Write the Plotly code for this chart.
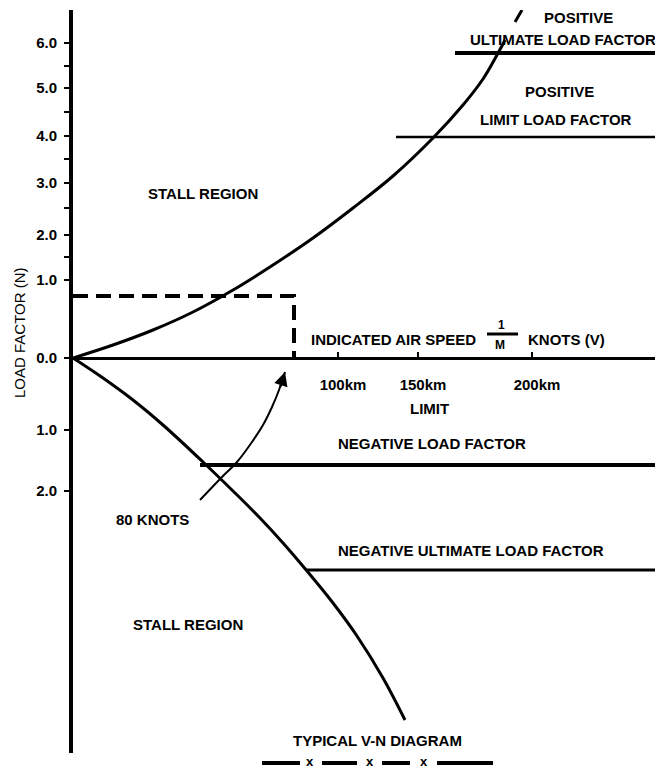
import plotly.graph_objects as go

# ---------------- data (diagram units: v = airspeed to the right of origin, n = load factor above the zero line)
pos_stall_v = [0, 40, 80, 120, 160, 200, 240, 280, 320, 360, 390, 410, 424, 432]
pos_stall_n = [0, 13, 28, 46, 68, 93, 120, 150, 182, 220, 253, 279, 303, 318]
pos_stall_tip_v = [442, 449]
pos_stall_tip_n = [336, 348]

neg_stall_v = [0, 30, 60, 90, 130, 160, 187, 210, 234, 260, 284, 310, 332]
neg_stall_n = [0, -20, -42, -67, -104, -133, -160, -185, -213, -245, -278, -320, -362]

# limit lines: start speed, load level
pos_ult_v, pos_ult_n = [382, 600], [305, 305]
pos_lim_v, pos_lim_n = [323, 600], [221, 221]
neg_lim_v, neg_lim_n = [127, 600], [-107, -107]
neg_ult_v, neg_ult_n = [234, 600], [-212, -212]

# 80 knot box
box_v = [0, 221, 221]
box_n = [62, 62, 0]

# 80 knots pointer
arrow_v = [127, 149, 164, 179, 190, 199, 206, 212]
arrow_n = [-142, -119, -104, -84, -67, -49, -32, -14]

speed_tick_vals = [265, 345, 459]
speed_tick_text = ["100km", "150km", "200km"]
load_tick_vals = [315, 270, 222, 175, 123, 78, 0, -72, -133]
load_tick_text = ["6.0", "5.0", "4.0", "3.0", "2.0", "1.0", "0.0", "1.0", "2.0"]
load_minor_vals = [292, 246, 199, 150, 101]

# ---------------- figure geometry (pixels; the page body adds an 8px margin)
W, H = 663, 769
OFF = 8
AX_X, AX_ZERO, AX_TOP, AX_BOT = 73 - OFF, 358 - OFF, 10 - OFF, 753 - OFF
FONT = "Liberation Sans, Arial, sans-serif"

def px(x):
    return (x - OFF) / W

def py(y):
    return (H - (y - OFF)) / H

fig = go.Figure()

def line(xs, ys, width=3, dash=None, smooth=True):
    fig.add_trace(go.Scatter(x=xs, y=ys, mode="lines", hoverinfo="skip", showlegend=False,
                             line=dict(color="black", width=width, dash=dash,
                                       shape="spline" if smooth else "linear",
                                       smoothing=1.0 if smooth else None)))

line(pos_stall_v, pos_stall_n, 3)
line(pos_stall_tip_v, pos_stall_tip_n, 3, smooth=False)
line(neg_stall_v, neg_stall_n, 3)
line(pos_ult_v, pos_ult_n, 4, smooth=False)
line(pos_lim_v, pos_lim_n, 2.5, smooth=False)
line(neg_lim_v, neg_lim_n, 4, smooth=False)
line(neg_ult_v, neg_ult_n, 3, smooth=False)
fig.add_trace(go.Scatter(x=box_v, y=box_n, mode="lines", hoverinfo="skip", showlegend=False,
                         line=dict(color="black", width=4, dash="15px,8px")))
line(arrow_v, arrow_n, 2)

anns = []
def txt(t, x, y, size=15, bold=True, xref="x", yref="y", angle=0):
    anns.append(dict(text=("<b>%s</b>" % t) if bold else t, x=x, y=y, xref=xref, yref=yref,
                     showarrow=False, textangle=angle, xanchor="center", yanchor="middle",
                     font=dict(family=FONT, size=size, color="#000000")))

txt("POSITIVE", 505, 340)
txt("ULTIMATE LOAD FACTOR", 490, 318)
txt("POSITIVE", 486, 266)
txt("LIMIT LOAD FACTOR", 483, 238)
txt("STALL REGION", 130, 164)
txt("INDICATED AIR SPEED", 320, 18)
txt("1", 428, 33, size=12)
txt("M", 427, 13, size=12)
txt("KNOTS (V)", 493, 18)
txt("LIMIT", 356, -51)
txt("NEGATIVE LOAD FACTOR", 359, -86)
txt("80 KNOTS", 79, -162)
txt("NEGATIVE ULTIMATE LOAD FACTOR", 398, -192)
txt("STALL REGION", 115, -266)
txt("TYPICAL V-N DIAGRAM", 304, -382)
txt("LOAD FACTOR (N)", px(20), 25, bold=False, xref="paper", angle=-90)

# arrow head of the 80 knots pointer
anns.append(dict(x=212, y=-14, xref="x", yref="y", ax=-5, ay=16, text="", showarrow=True,
                 arrowhead=2, arrowsize=1.1, arrowwidth=2.5, arrowcolor="black"))

# legend-like line under the caption: — x — x — x —
LEG_Y = 763
seg_px = [(262, 300), (322, 357), (382, 410), (437, 493)]
x_px = [310, 370, 424]
shapes = [dict(type="line", xref="paper", yref="paper", x0=px(a), x1=px(b),
               y0=py(LEG_Y), y1=py(LEG_Y), line=dict(color="black", width=4))
          for a, b in seg_px]
for xp in x_px:
    txt("x", px(xp), py(LEG_Y - 2), size=13, xref="paper", yref="paper")
# fraction bar of 1/M
shapes.append(dict(type="line", xref="x", yref="y", x0=414, x1=445, y0=24, y1=24,
                   line=dict(color="black", width=3)))

fig.update_layout(
    width=W, height=H, margin=dict(l=0, r=0, t=0, b=0),
    paper_bgcolor="white", plot_bgcolor="white",
    annotations=anns, shapes=shapes, showlegend=False,
    xaxis=dict(domain=[AX_X / W, 1], range=[0, W - AX_X], anchor="free",
               position=(H - AX_ZERO) / H, showline=True, linewidth=3, linecolor="black",
               ticks="inside", ticklen=5, tickwidth=2, tickcolor="black",
               tickmode="array", tickvals=speed_tick_vals, ticktext=speed_tick_text,
               ticklabelstandoff=12, ticklabelshift=5,
               tickfont=dict(family=FONT, size=15, color="black", weight="bold"),
               showgrid=False, zeroline=False, fixedrange=True),
    yaxis=dict(domain=[(H - AX_BOT) / H, (H - AX_TOP) / H],
               range=[-(AX_BOT - AX_ZERO), AX_ZERO - AX_TOP], anchor="x",
               showline=True, linewidth=4, linecolor="black",
               ticks="outside", ticklen=5, tickwidth=2, tickcolor="black",
               tickmode="array", tickvals=load_tick_vals, ticktext=load_tick_text,
               ticklabelstandoff=4,
               minor=dict(tickmode="array", tickvals=load_minor_vals, ticks="outside",
                          ticklen=5, tickwidth=2, tickcolor="black"),
               tickfont=dict(family=FONT, size=15, color="black", weight="bold"),
               showgrid=False, zeroline=False, fixedrange=True),
)

fig.write_html("out.html")
